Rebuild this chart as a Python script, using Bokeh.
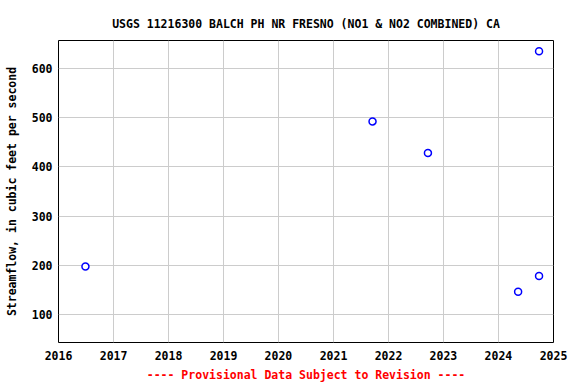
from datetime import datetime
from bokeh.plotting import figure
from bokeh.models import Range1d, FixedTicker, DatetimeTickFormatter, ColumnDataSource
from bokeh.embed import file_html
from bokeh.resources import INLINE

# Data
dates = ["2016-06-28", "2021-09-17", "2022-09-20", "2024-05-11", "2024-09-27", "2024-09-27"]
flows = [198, 492, 428, 147, 179, 634]
year_ticks = [2016, 2017, 2018, 2019, 2020, 2021, 2022, 2023, 2024, 2025]
y_ticks = [100, 200, 300, 400, 500, 600]

title_text = "USGS 11216300 BALCH PH NR FRESNO (NO1 & NO2 COMBINED) CA"
y_label = "Streamflow, in cubic feet per second"
note_text = "---- Provisional Data Subject to Revision ----"

FONT = "DejaVu Sans Mono"
FS = "11.5px"

def ms(dt):
    return (dt - datetime(1970, 1, 1)).total_seconds() * 1000.0

xs = [datetime.strptime(d, "%Y-%m-%d") for d in dates]
src = ColumnDataSource(dict(x=xs, y=flows))

p = figure(width=576, height=384, x_axis_type="datetime",
           output_backend="svg", toolbar_location=None,
           x_range=Range1d(datetime(2016, 1, 1), datetime(2025, 1, 1)),
           y_range=Range1d(44, 656),
           min_border_left=58, min_border_right=23,
           min_border_top=40, min_border_bottom=42)

p.title.text = title_text
p.title.text_font = FONT
p.title.text_font_size = FS
p.title.text_font_style = "bold"
p.title.align = "center"
p.title.text_color = "black"
p.title.standoff = 20

p.outline_line_color = "black"
p.outline_line_width = 1
p.background_fill_color = "white"
p.border_fill_color = "white"

p.xaxis.ticker = FixedTicker(ticks=[ms(datetime(y, 1, 1)) for y in year_ticks])
p.xaxis.formatter = DatetimeTickFormatter(years="%Y", months="%Y", days="%Y", hours="%Y")
p.yaxis.ticker = FixedTicker(ticks=y_ticks)
p.yaxis.axis_label = y_label
p.xaxis.axis_label = note_text

for ax in (p.xaxis, p.yaxis):
    ax.axis_line_color = None
    ax.major_tick_line_color = None
    ax.minor_tick_line_color = None
    ax.major_tick_out = 0
    ax.minor_tick_out = 0
    ax.major_label_text_font = FONT
    ax.major_label_text_font_size = FS
    ax.major_label_text_font_style = "bold"
    ax.major_label_text_color = "black"
    ax.axis_label_text_font = FONT
    ax.axis_label_text_font_size = FS
    ax.axis_label_text_font_style = "bold"
p.xaxis.major_label_standoff = 8
p.yaxis.major_label_standoff = 6
p.yaxis.axis_label_text_color = "black"
p.yaxis.axis_label_standoff = 10
p.xaxis.axis_label_text_color = "red"
p.xaxis.axis_label_standoff = 5

p.xgrid.grid_line_color = "#cccccc"
p.ygrid.grid_line_color = "#cccccc"
p.xgrid.grid_line_alpha = 1
p.ygrid.grid_line_alpha = 1

p.scatter("x", "y", source=src, marker="circle", size=7,
          line_color="blue", line_width=1.5, fill_color="white")

open("out.html", "w").write(file_html(p, INLINE))
